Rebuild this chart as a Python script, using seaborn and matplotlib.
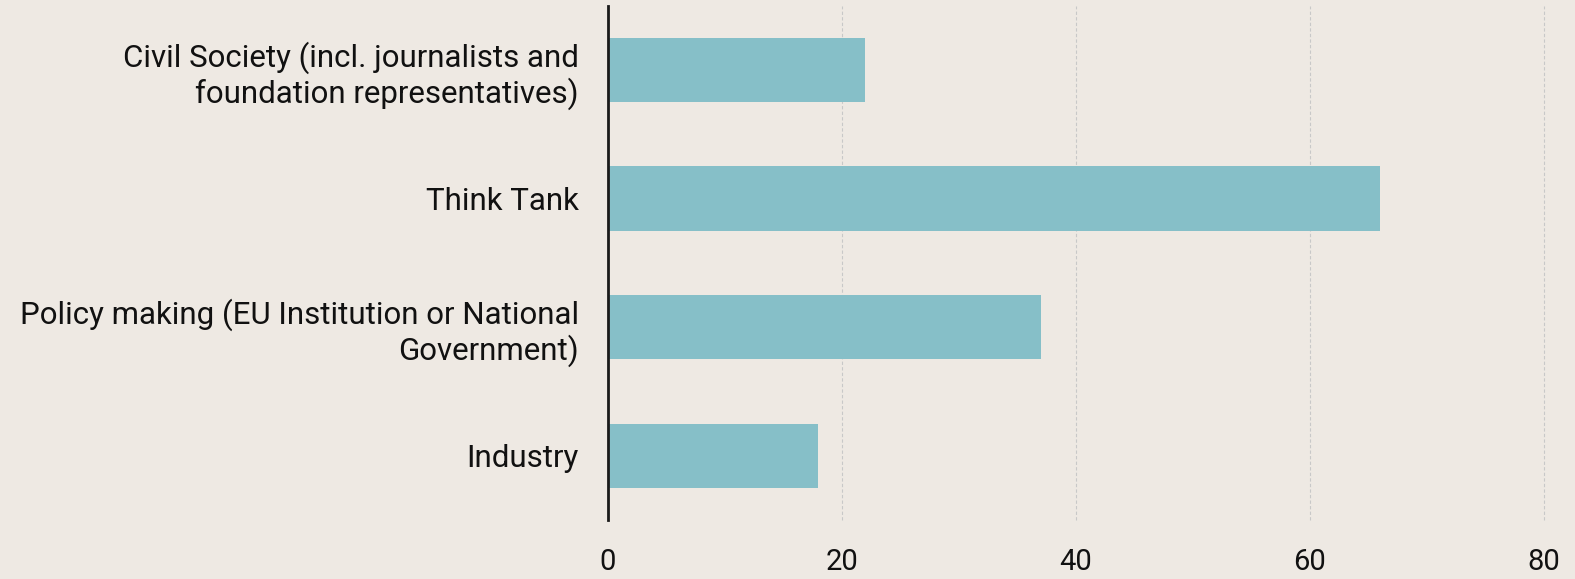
import matplotlib
matplotlib.use("Agg")
import matplotlib.pyplot as plt
import seaborn as sns
import pandas as pd

categories = [
    "Civil Society (incl. journalists and\nfoundation representatives)",
    "Think Tank",
    "Policy making (EU Institution or National\nGovernment)",
    "Industry",
]
counts = [22, 66, 37, 18]
x_ticks = [0, 20, 40, 60, 80]

BG = "#EEE9E3"
BAR = "#86BFC8"

sns.set_theme(style="white")
plt.rcParams["font.family"] = ["Roboto", "DejaVu Sans"]

df = pd.DataFrame({"sector": categories, "count": counts})

fig = plt.figure(figsize=(15.75, 5.79), dpi=100, facecolor=BG)
ax = fig.add_axes([0.386, 0.102, 0.594, 0.888], facecolor=BG)

sns.barplot(data=df, y="sector", x="count", color=BAR, width=0.5,
            saturation=1, linewidth=0, ax=ax)

ax.set_xlim(0, 80)
ax.set_ylim(3.5, -0.5)
ax.set_xticks(x_ticks)
ax.xaxis.grid(True, color="#C8C8C8", linestyle=(0, (3, 2)), linewidth=0.8)
for gl in ax.get_xgridlines():
    gl.set_clip_on(False)
ax.set_axisbelow(True)
ax.set_xlabel("")
ax.set_ylabel("")
for s in ["top", "right", "bottom"]:
    ax.spines[s].set_visible(False)
ax.spines["left"].set_color("#1a1a1a")
ax.spines["left"].set_linewidth(2)
ax.tick_params(axis="x", length=0, pad=20, labelsize=21, labelcolor="#111111")
ax.tick_params(axis="y", length=0, pad=21, labelsize=22.5, labelcolor="#111111")
for lab in ax.get_yticklabels():
    lab.set_horizontalalignment("right")
    lab.set_multialignment("right")
    lab.set_linespacing(1.15)

fig.savefig("out.png", dpi=100, facecolor=BG)
